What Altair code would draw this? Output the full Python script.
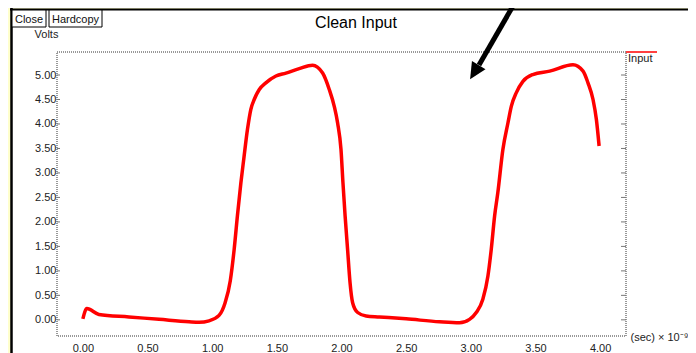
import altair as alt
import pandas as pd

# ---- data ----
time_ns = [0.000, 0.031, 0.124, 0.356, 0.589, 0.821, 0.899, 0.976, 1.053, 1.100,
           1.140, 1.170, 1.195, 1.222, 1.245, 1.273, 1.299, 1.325, 1.363, 1.415,
           1.493, 1.570, 1.673, 1.776, 1.854, 1.906, 1.944, 1.970, 1.996, 2.011,
           2.028, 2.047, 2.066, 2.086, 2.125, 2.190, 2.293, 2.500, 2.758, 2.912,
           2.990, 3.042, 3.093, 3.132, 3.158, 3.184, 3.209, 3.248, 3.287, 3.313,
           3.352, 3.403, 3.480, 3.610, 3.790, 3.868, 3.906, 3.945, 3.971, 3.992]
volts = [0.02, 0.23, 0.11, 0.06, 0.01, -0.04, -0.05, -0.02, 0.09, 0.35,
         0.80, 1.44, 2.12, 2.80, 3.30, 3.89, 4.30, 4.50, 4.70, 4.84,
         4.98, 5.04, 5.13, 5.20, 5.04, 4.70, 4.36, 4.02, 3.48, 2.81,
         2.12, 1.44, 0.76, 0.35, 0.15, 0.08, 0.06, 0.02, -0.04, -0.06,
         0.01, 0.15, 0.42, 0.89, 1.44, 2.12, 2.60, 3.48, 4.02, 4.36,
         4.64, 4.87, 5.01, 5.08, 5.21, 5.08, 4.84, 4.50, 4.09, 3.55]
x_ticks = [0.0, 0.5, 1.0, 1.5, 2.0, 2.5, 3.0, 3.5, 4.0]
y_ticks = [0.0, 0.5, 1.0, 1.5, 2.0, 2.5, 3.0, 3.5, 4.0, 4.5, 5.0]
series_name = "Input"
chart_title = "Clean Input"
buttons = ["Close", "Hardcopy"]

W, H = 569, 284
FONT = "Liberation Sans"

df = pd.DataFrame({"t": time_ns, "v": volts})
ticks_df = pd.DataFrame({"v": y_ticks})
one = pd.DataFrame({"a": [0]})

xscale = alt.Scale(domain=[-0.2, 4.2], nice=False, zero=False)
yscale = alt.Scale(domain=[-0.33, 5.47], nice=False, zero=False)

x_axis = alt.Axis(values=x_ticks, format=".2f", ticks=False, tickSize=0, labelPadding=6,
                  labelOverlap=False, labelBound=False, domain=False, grid=False,
                  labelFont=FONT, labelFontSize=11, labelColor="#222",
                  title="(sec) × 10⁻⁹", titleFont=FONT, titleFontSize=11,
                  titleFontWeight="normal", titleColor="#222", titleAngle=0,
                  titleAlign="left", titleBaseline="alphabetic", titleX=573,
                  titleY=4, zindex=2)
y_axis = alt.Axis(values=y_ticks, format=".2f", ticks=False, tickSize=0, labelPadding=1,
                  labelOverlap=False, labelBound=False,
                  domain=False, grid=False, labelFont=FONT,
                  labelFontSize=11, labelColor="#222", title="Volts", titleFont=FONT,
                  titleFontSize=11, titleFontWeight="normal", titleColor="#222",
                  titleAngle=0, titleAlign="center", titleBaseline="alphabetic",
                  titleX=-11, titleY=-15, zindex=2)

base1 = alt.Chart(one)

# white panel + black border
panel = base1.mark_rect(fill="white", stroke=None).encode(
    x=alt.value(-45), x2=alt.value(645), y=alt.value(-42), y2=alt.value(310))
border_v = base1.mark_rule(color="black", strokeWidth=2.5).encode(
    x=alt.value(-45.5), y=alt.value(-44), y2=alt.value(310))
border_h = base1.mark_rule(color="black", strokeWidth=2).encode(
    x=alt.value(-47), x2=alt.value(645), y=alt.value(-42.5))

# buttons
btn_df = pd.DataFrame({"label": buttons, "x0": [-45, -8], "x1": [-11, 45]})
btn_rect = alt.Chart(btn_df).mark_rect(fill="white", stroke="black", strokeWidth=1).encode(
    x=alt.X("x0:Q", scale=None), x2="x1:Q", y=alt.value(-42), y2=alt.value(-25))
btn_text = alt.Chart(btn_df).transform_calculate(xc="(datum.x0 + datum.x1) / 2").mark_text(
    font=FONT, fontSize=11, color="#111", baseline="alphabetic", align="center").encode(
    x=alt.X("xc:Q", scale=None), y=alt.value(-29), text="label:N")

title = base1.mark_text(text=chart_title, font=FONT, fontSize=16, color="black",
                        baseline="alphabetic", align="center").encode(
    x=alt.value(299), y=alt.value(-24))

# plot frame (dotted)
frame = base1.mark_rect(fillOpacity=0, stroke="#333", strokeWidth=1, strokeDash=[1, 1]).encode(
    x=alt.value(0), x2=alt.value(W), y=alt.value(0), y2=alt.value(H))

# inner ticks
lticks = alt.Chart(ticks_df).mark_rule(color="#777").encode(
    y=alt.Y("v:Q", scale=yscale, axis=y_axis), x=alt.value(0), x2=alt.value(3))
rticks = alt.Chart(ticks_df).mark_rule(color="#777").encode(
    y=alt.Y("v:Q", scale=yscale, axis=y_axis), x=alt.value(W - 5), x2=alt.value(W))

line = alt.Chart(df).mark_line(color="#FF0000", strokeWidth=3.5, interpolate="monotone").encode(
    x=alt.X("t:Q", scale=xscale, axis=x_axis),
    y=alt.Y("v:Q", scale=yscale, axis=y_axis),
)

# legend
leg_line = base1.mark_rule(color="#FF0000", strokeWidth=1.5).encode(
    x=alt.value(W), x2=alt.value(W + 31), y=alt.value(0))
leg_text = base1.mark_text(text=series_name, font=FONT, fontSize=11, color="#222",
                           align="left", baseline="alphabetic").encode(
    x=alt.value(W + 2), y=alt.value(10))

# annotation arrow
shaft = base1.mark_rule(color="black", strokeWidth=5).encode(
    x=alt.value(464), x2=alt.value(422), y=alt.value(-60), y2=alt.value(13))
head = base1.mark_point(shape="M0,1L-0.6,-0.25L0.6,-0.25Z", filled=True, color="black",
                        opacity=1, size=700, angle=31.5).encode(
    x=alt.value(420), y=alt.value(16))

chart = alt.layer(
    panel, border_v, border_h, btn_rect, btn_text, title, frame, line, lticks, rticks,
    leg_line, leg_text, shaft, head
).properties(
    width=W, height=H,
    autosize=alt.AutoSizeParams(type="none"),
    padding={"left": 49, "top": 44, "right": 62, "bottom": 17},
).configure(background="#FFFFCC").configure_view(stroke=None)

chart.save("out.html", embed_options={"renderer": "svg", "actions": False})
